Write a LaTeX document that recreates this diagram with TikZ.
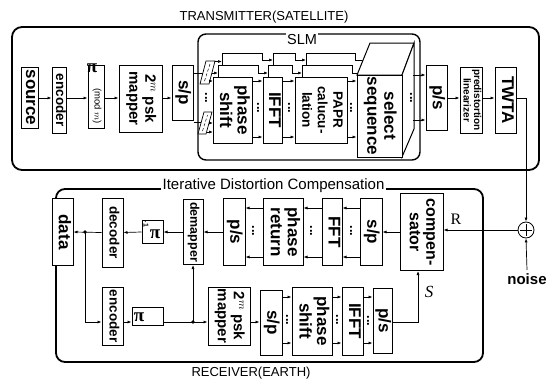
\documentclass[tikz,border=0pt]{standalone}
\usepackage{fontspec}
\usepackage{graphicx}
\setmainfont{Liberation Sans}
\newfontfamily\serifrm{Liberation Serif}
\usetikzlibrary{arrows.meta}

\newcommand{\vlab}[1]{\rotatebox{-90}{\begin{tabular}{@{}c@{}}#1\end{tabular}}}

\tikzset{
  blk/.style={draw, fill=white, line width=1pt, inner sep=0pt},
  fbig/.style={font=\bfseries\fontsize{17}{17}\selectfont},
  fmid/.style={font=\bfseries\fontsize{15}{16}\selectfont},
  fsml/.style={font=\bfseries\fontsize{13.5}{14}\selectfont},
  ftny/.style={font=\bfseries\fontsize{10}{10.5}\selectfont},
  arr/.style={-{Latex[length=4pt,width=3pt]}, line width=0.7pt},
  ln/.style={line width=0.7pt},
  vdots/.style={font=\bfseries\fontsize{13}{13}\selectfont, inner sep=0pt},
  pisym/.style={font=\serifrm\bfseries\fontsize{19}{19}\selectfont, inner sep=0pt},
  title/.style={font=\fontsize{13}{13}\selectfont},
  dotc/.style={fill, circle, inner sep=0pt, minimum size=3.6pt}
}

\begin{document}
\begin{tikzpicture}[x=1pt,y=-1pt]
\useasboundingbox (0,0) rectangle (557,383);

% transmitter frame
\draw[line width=1.8pt, rounded corners=10pt] (12,27) rectangle (539,170);
\node[title] (txt) at (264,17) {TRANSMITTER(SATELLITE)};
\draw[line width=1.4pt, rounded corners=8pt] (198,34) rectangle (420,160);
\node[fill=white, inner sep=1.5pt, font=\fontsize{14.5}{14.5}\selectfont] (slm) at (302,40) {SLM};

\coordinate (tx) at (0,98);
\coordinate (up) at (0,81);
\coordinate (dn) at (0,137);

\node[blk, fbig, minimum width=15pt, minimum height=61pt] (src) at (29.5,97.5) {\vlab{source}};
\node[blk, fsml, minimum width=14pt, minimum height=66pt] (enc) at (59,100) {\vlab{encoder}};
\node[blk, minimum width=16pt, minimum height=63pt] (pim) at (96,96.5) {};
\node[pisym] (pis) at (92,68) {π};
\node[font=\fontsize{9.5}{9.5}\selectfont, inner sep=0pt] (mod) at (97,106) {\rotatebox{-90}{(mod $m$)}};
\node[blk, fmid, minimum width=43pt, minimum height=67pt] (map) at (140.5,98.5) {\vlab{2$^m$ psk\\mapper}};
\node[blk, fbig, minimum width=21pt, minimum height=55pt] (sp) at (182.5,92.5) {\vlab{s/p}};

\foreach \a/\b in {src/enc, enc/pim, pim/map, map/sp}
  \draw[arr] (\a.east |- tx) -- (\b.west |- tx);

% splitters
\coordinate (s1) at (203,73);
\coordinate (s2) at (201,122);
\draw[ln] (sp.east |- s1) -- (s1);
\draw[ln] (sp.east |- s2) -- (s2);
\draw[ln, fill=white] (200,84) -- (209,84) -- (215,61) -- (206,61) -- cycle;
\draw[densely dashed, line width=0.5pt] (204.5,81) -- (210,64);
\draw[ln, fill=white] (198,134) -- (206,134) -- (212,112) -- (204,112) -- cycle;
\draw[densely dashed, line width=0.5pt] (202.5,131) -- (207.5,115);
\node[vdots] (d1) at (206,98) {\rotatebox{-90}{...}};

% back copies of the chain
\draw[arr] (222,65) |- (262,53) -- (262,60) -- (273,60);
\draw[arr] (218,77) |- (258,65) -- (258,73) -- (268,73);
\draw[arr] (273,65) |- (295,53) -- (295,60) -- (306,60);
\draw[arr] (268,77) |- (292,65) -- (292,73) -- (302,73);
\draw[ln] (306,65) |- (355,53) -- (355,60) -- (363,60);
\draw[ln] (302,77) |- (352,65) -- (352,73) -- (358,73);
\draw[arr] (215,61.5) -- (222,61.5);
\draw[arr] (212,73) -- (218,73);
\draw[arr] (209.5,81) -- (213,81);
\draw[arr] (209,123) -- (213,123);
\draw[arr] (206.5,132) -- (213,132);

% front copy
\node[blk, fbig, minimum width=39pt, minimum height=66pt] (ps0) at (232.5,110) {\vlab{phase\\shift}};
\node[blk, fbig, minimum width=19pt, minimum height=66pt] (if0) at (272.5,110) {\vlab{IFFT}};
\node[blk, font=\bfseries\fontsize{13.5}{15.5}\selectfont, minimum width=52pt, minimum height=66pt] (pa0) at (321,110) {\vlab{PAPR\\calucu-\\lation}};

% select sequence block
\draw[line width=1pt, fill=white] (357,75) -- (370,43) -- (414,43) -- (402,75) -- cycle;
\draw[line width=1pt, fill=white] (402,75) -- (414,43) -- (414,129) -- (402,157) -- cycle;
\node[blk, fbig, minimum width=45pt, minimum height=82pt] (sel) at (379.5,116) {\vlab{select\\sequence}};

\foreach \a/\b in {ps0/if0, if0/pa0, pa0/sel} {
  \draw[arr] (\a.east |- up) -- (\b.west |- up);
  \draw[arr] (\a.east |- dn) -- (\b.west |- dn);
}
\node[vdots] (d2) at (258,108) {\rotatebox{-90}{...}};
\node[vdots] (d3) at (289,108) {\rotatebox{-90}{...}};
\node[vdots] (d4) at (351,108) {\rotatebox{-90}{...}};
\node[vdots] (d5) at (411,98) {\rotatebox{-90}{...}};

\node[blk, fbig, minimum width=21pt, minimum height=65pt] (pst) at (436.5,97.5) {\vlab{p/s}};
\node[blk, ftny, minimum width=22pt, minimum height=66pt] (pre) at (471,100) {\vlab{predistortion\\linearizer}};
\node[blk, fbig, minimum width=21pt, minimum height=66pt] (twta) at (505.5,100) {\vlab{TWTA}};

\coordinate (c1) at (413,75);
\coordinate (c2) at (413,120);
\draw[arr] (c1) -- (pst.west |- c1);
\draw[arr] (c2) -- (pst.west |- c2);
\draw[arr] (pst.east |- tx) -- (pre.west |- tx);
\draw[arr] (pre.east |- tx) -- (twta.west |- tx);

% channel
\node[draw, circle, minimum size=16pt, inner sep=0pt, line width=0.8pt] (add) at (526,230) {};
\draw[line width=0.8pt] ([yshift=-6pt]add.center) -- ([yshift=6pt]add.center)
  ([xshift=-6pt]add.center) -- ([xshift=6pt]add.center);
\draw[arr] (twta.east |- tx) -| (add.north);
\node[font=\bfseries\fontsize{15}{15}\selectfont] (noise) at (527,279) {noise};
\draw[arr] (noise.north) -- (add.south);

% receiver frame
\draw[line width=1.8pt, rounded corners=9pt] (56,189) rectangle (483,362);
\node[fill=white, inner sep=1.5pt, font=\fontsize{15}{15}\selectfont] (idc) at (273.5,186) {Iterative Distortion Compensation};
\node[title] (rxt) at (251,373) {RECEIVER(EARTH)};

\coordinate (r1) at (0,208);
\coordinate (r2) at (0,257);
\coordinate (lo) at (0,322);
\coordinate (b1) at (0,297);
\coordinate (b2) at (0,343);

\node[blk, font=\bfseries\fontsize{16}{16.5}\selectfont, minimum width=43pt, minimum height=77pt] (comp) at (421.5,232) {\vlab{compen-\\sator}};
\node[blk, fbig, minimum width=22pt, minimum height=67pt] (sp2) at (371,232) {\vlab{s/p}};
\node[blk, fbig, minimum width=20pt, minimum height=67pt] (fft) at (332,232) {\vlab{FFT}};
\node[blk, fbig, minimum width=40pt, minimum height=67pt] (pret) at (283,232) {\vlab{phase\\return}};
\node[blk, fbig, minimum width=22pt, minimum height=67pt] (ps2) at (234,232) {\vlab{p/s}};
\node[blk, font=\bfseries\fontsize{12.5}{13}\selectfont, minimum width=20pt, minimum height=65pt] (demap) at (193,232) {\vlab{demapper}};
\node[blk, minimum width=21pt, minimum height=23pt] (pinv) at (152.5,232) {};
\node[pisym] (pis2) at (155,234) {π};
\node[font=\bfseries\fontsize{7}{7}\selectfont, inner sep=0pt] (inv) at (146,224) {\rotatebox{-90}{-1}};
\node[blk, fsml, minimum width=21pt, minimum height=69pt] (dec) at (112.5,232.5) {\vlab{decoder}};
\node[blk, fbig, minimum width=21pt, minimum height=67pt] (data) at (62.5,232) {\vlab{data}};

\draw[arr] (add.west) -- (comp.east |- add.west);
\node[font=\serifrm\fontsize{16}{16}\selectfont] (rl) at (456,219) {R};
\draw[arr] (comp.west) -- (sp2.east);
\foreach \a/\b in {sp2/fft, fft/pret, pret/ps2} {
  \draw[arr] (\a.west |- r1) -- (\b.east |- r1);
  \draw[arr] (\a.west |- r2) -- (\b.east |- r2);
}
\node[vdots] (d6) at (253,231) {\rotatebox{-90}{...}};
\node[vdots] (d7) at (311,231) {\rotatebox{-90}{...}};
\node[vdots] (d8) at (351,231) {\rotatebox{-90}{...}};
\draw[arr] (ps2.west) -- (demap.east);
\draw[arr] (demap.west) -- (pinv.east);
\draw[arr] (pinv.west) -- (dec.east);
\coordinate (dot1) at (85,232);
\draw[arr] (dec.west) -- (data.east);
\node[dotc] at (dot1) {};

\node[blk, fsml, minimum width=21pt, minimum height=58pt] (enc2) at (112.5,316) {\vlab{encoder}};
\node[blk, minimum width=31pt, minimum height=18pt] (pi2) at (147.5,316) {};
\node[pisym] (pis3) at (139,317) {π};
\node[blk, fmid, minimum width=42pt, minimum height=58pt] (map2) at (229,316) {\vlab{2$^m$ psk\\mapper}};
\node[blk, fbig, minimum width=22pt, minimum height=65pt] (sp3) at (271,322.5) {\vlab{s/p}};
\node[blk, fbig, minimum width=40pt, minimum height=68pt] (ps3) at (312,321) {\vlab{phase\\shift}};
\node[blk, fbig, minimum width=21pt, minimum height=68pt] (if2) at (352.5,321) {\vlab{IFFT}};
\node[blk, fbig, minimum width=19pt, minimum height=65pt] (ps4) at (382.5,320.5) {\vlab{p/s}};

\draw[arr] (dot1) |- (enc2.west |- lo);
\draw[arr] (enc2.east |- lo) -- (pi2.west |- lo);
\coordinate (dot2) at (193,322);
\draw[arr] (pi2.east |- lo) -- (map2.west |- lo);
\node[dotc] at (dot2) {};
\draw[arr] (dot2) -- (demap.south);
\draw[arr] (map2.east |- lo) -- (sp3.west |- lo);
\foreach \a/\b in {sp3/ps3, ps3/if2, if2/ps4} {
  \draw[arr] (\a.east |- b1) -- (\b.west |- b1);
  \draw[arr] (\a.east |- b2) -- (\b.west |- b2);
}
\node[vdots] (d9) at (287,320) {\rotatebox{-90}{...}};
\node[vdots] (d10) at (337,320) {\rotatebox{-90}{...}};
\node[vdots] (d11) at (368,321) {\rotatebox{-90}{...}};
\draw[arr] (ps4.east |- lo) -| ([xshift=-3.5pt]comp.south);
\node[font=\serifrm\itshape\fontsize{17}{17}\selectfont] (sl) at (429,292) {S};
\end{tikzpicture}
\end{document}
